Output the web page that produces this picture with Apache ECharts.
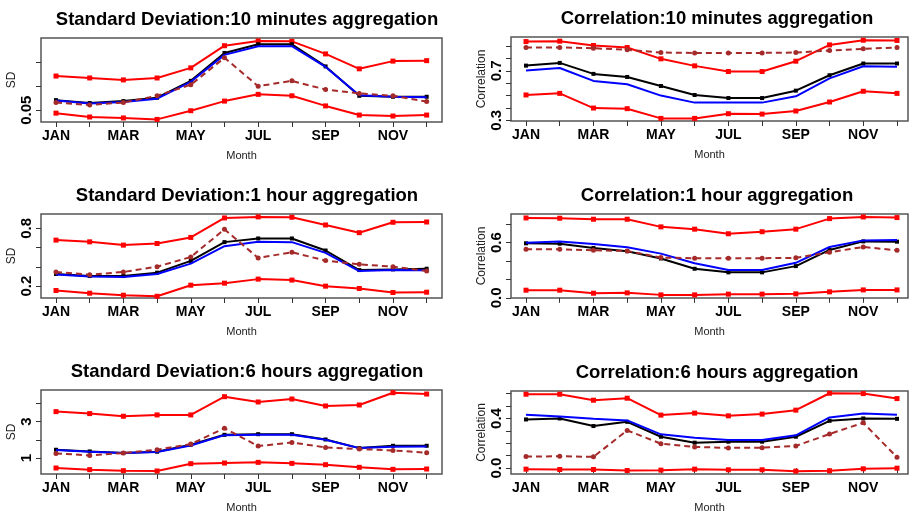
<!DOCTYPE html>
<html>
<head>
<meta charset="utf-8">
<title>SD and correlation by month</title>
<script src="https://cdn.jsdelivr.net/npm/echarts@6/dist/echarts.min.js"></script>
<style>
html, body { margin: 0; padding: 0; background: #fff; }
#chart { width: 913px; height: 514px; }
</style>
</head>
<body>
<div id="chart"></div>
<script>
var months = ['JAN', 'FEB', 'MAR', 'APR', 'MAY', 'JUN', 'JUL', 'AUG', 'SEP', 'OCT', 'NOV', 'DEC'];
var monthTicks = [1, 2, 3, 4, 5, 6, 7, 8, 9, 10, 11, 12];
var monthLabelTicks = [1, 3, 5, 7, 9, 11];

// Standard Deviation: 10 minutes
var sd10Upper = [0.121, 0.117, 0.113, 0.117, 0.138, 0.184, 0.194, 0.193, 0.167, 0.136, 0.152, 0.153];
var sd10Lower = [0.044, 0.036, 0.034, 0.031, 0.049, 0.069, 0.083, 0.080, 0.059, 0.040, 0.038, 0.040];
var sd10Black = [0.071, 0.065, 0.069, 0.076, 0.111, 0.169, 0.187, 0.187, 0.141, 0.080, 0.078, 0.078];
var sd10Blue = [0.070, 0.064, 0.067, 0.074, 0.109, 0.165, 0.183, 0.183, 0.140, 0.081, 0.078, 0.077];
var sd10Brown = [0.066, 0.061, 0.066, 0.080, 0.103, 0.159, 0.100, 0.111, 0.093, 0.085, 0.080, 0.068];
var sd10Ticks = [0.05, 0.10, 0.15];
var sd10Labels = ['0.05'];

// Correlation: 10 minutes
var cor10Upper = [0.938, 0.941, 0.906, 0.890, 0.798, 0.741, 0.695, 0.695, 0.779, 0.911, 0.949, 0.947];
var cor10Lower = [0.505, 0.518, 0.399, 0.394, 0.315, 0.315, 0.353, 0.350, 0.375, 0.448, 0.535, 0.518];
var cor10Black = [0.743, 0.765, 0.676, 0.651, 0.578, 0.505, 0.480, 0.480, 0.540, 0.665, 0.760, 0.760];
var cor10Blue = [0.703, 0.724, 0.619, 0.592, 0.500, 0.443, 0.443, 0.443, 0.494, 0.640, 0.738, 0.733];
var cor10Brown = [0.890, 0.890, 0.884, 0.871, 0.849, 0.846, 0.846, 0.846, 0.849, 0.865, 0.879, 0.890];
var cor10Ticks = [0.3, 0.4, 0.5, 0.6, 0.7, 0.8, 0.9];
var cor10Labels = ['0.3', '0.7'];

// Standard Deviation: 1 hour
var sd1hUpper = [0.678, 0.660, 0.626, 0.643, 0.706, 0.908, 0.919, 0.915, 0.835, 0.755, 0.863, 0.866];
var sd1hLower = [0.155, 0.127, 0.106, 0.095, 0.210, 0.231, 0.273, 0.263, 0.200, 0.176, 0.134, 0.137];
var sd1hBlack = [0.326, 0.305, 0.305, 0.340, 0.462, 0.657, 0.695, 0.695, 0.570, 0.367, 0.374, 0.381];
var sd1hBlue = [0.322, 0.301, 0.294, 0.326, 0.434, 0.615, 0.660, 0.657, 0.545, 0.357, 0.367, 0.364];
var sd1hBrown = [0.347, 0.319, 0.347, 0.402, 0.503, 0.790, 0.493, 0.552, 0.465, 0.427, 0.402, 0.357];
var sd1hTicks = [0.2, 0.4, 0.6, 0.8];
var sd1hLabels = ['0.2', '0.8'];

// Correlation: 1 hour
var cor1hUpper = [0.869, 0.866, 0.855, 0.855, 0.772, 0.747, 0.697, 0.719, 0.747, 0.862, 0.880, 0.873];
var cor1hLower = [0.083, 0.083, 0.050, 0.054, 0.032, 0.032, 0.040, 0.040, 0.043, 0.065, 0.086, 0.086];
var cor1hBlack = [0.593, 0.589, 0.543, 0.507, 0.428, 0.316, 0.277, 0.277, 0.345, 0.521, 0.614, 0.611];
var cor1hBlue = [0.600, 0.614, 0.586, 0.550, 0.481, 0.377, 0.302, 0.302, 0.381, 0.553, 0.625, 0.629];
var cor1hBrown = [0.528, 0.528, 0.517, 0.510, 0.438, 0.431, 0.431, 0.431, 0.435, 0.496, 0.553, 0.517];
var cor1hTicks = [0, 0.2, 0.4, 0.6, 0.8];
var cor1hLabels = ['0.0', '0.6'];

// Standard Deviation: 6 hours
var sd6hUpper = [3.545, 3.436, 3.291, 3.364, 3.364, 4.364, 4.073, 4.236, 3.855, 3.909, 4.582, 4.509];
var sd6hLower = [0.455, 0.364, 0.309, 0.291, 0.691, 0.727, 0.764, 0.709, 0.636, 0.491, 0.382, 0.400];
var sd6hBlack = [1.455, 1.364, 1.273, 1.345, 1.727, 2.273, 2.309, 2.309, 2.018, 1.545, 1.673, 1.673];
var sd6hBlue = [1.436, 1.345, 1.273, 1.327, 1.691, 2.255, 2.273, 2.273, 2.000, 1.545, 1.618, 1.636];
var sd6hBrown = [1.255, 1.145, 1.273, 1.455, 1.764, 2.636, 1.655, 1.855, 1.582, 1.491, 1.418, 1.291];
var sd6hTicks = [1, 2, 3, 4];
var sd6hLabels = ['1', '3'];

// Correlation: 6 hours
var cor6hUpper = [0.595, 0.595, 0.547, 0.563, 0.427, 0.443, 0.421, 0.435, 0.467, 0.603, 0.600, 0.560];
var cor6hLower = [-0.008, -0.011, -0.011, -0.019, -0.016, -0.008, -0.013, -0.013, -0.024, -0.021, -0.005, 0.000];
var cor6hBlack = [0.392, 0.400, 0.339, 0.373, 0.253, 0.205, 0.213, 0.213, 0.253, 0.381, 0.400, 0.397];
var cor6hBlue = [0.429, 0.416, 0.397, 0.384, 0.272, 0.245, 0.227, 0.227, 0.264, 0.408, 0.440, 0.429];
var cor6hBrown = [0.093, 0.096, 0.091, 0.304, 0.197, 0.171, 0.163, 0.165, 0.179, 0.275, 0.365, 0.088];
var cor6hTicks = [0, 0.1, 0.2, 0.3, 0.4, 0.5, 0.6];
var cor6hLabels = ['0.0', '0.4'];

var panels = [
  {title: 'Standard Deviation:10 minutes aggregation', yName: 'SD', lines: [sd10Upper, sd10Lower, sd10Black, sd10Blue, sd10Brown], ticks: sd10Ticks, labels: sd10Labels,
   min: 0.0256, max: 0.200, left: 41, top: 38, width: 401, height: 84, xMax: 12.455, titleX: 242},
  {title: 'Correlation:10 minutes aggregation', yName: 'Correlation', lines: [cor10Upper, cor10Lower, cor10Black, cor10Blue, cor10Brown], ticks: cor10Ticks, labels: cor10Labels,
   min: 0.294, max: 0.975, left: 511, top: 37, width: 397, height: 84, xMax: 12.326, titleX: 712},
  {title: 'Standard Deviation:1 hour aggregation', yName: 'SD', lines: [sd1hUpper, sd1hLower, sd1hBlack, sd1hBlue, sd1hBrown], ticks: sd1hTicks, labels: sd1hLabels,
   min: 0.077, max: 0.949, left: 41, top: 214, width: 401, height: 84, xMax: 12.455, titleX: 242},
  {title: 'Correlation:1 hour aggregation', yName: 'Correlation', lines: [cor1hUpper, cor1hLower, cor1hBlack, cor1hBlue, cor1hBrown], ticks: cor1hTicks, labels: cor1hLabels,
   min: -0.002, max: 0.912, left: 511, top: 214, width: 397, height: 84, xMax: 12.326, titleX: 712},
  {title: 'Standard Deviation:6 hours aggregation', yName: 'SD', lines: [sd6hUpper, sd6hLower, sd6hBlack, sd6hBlue, sd6hBrown], ticks: sd6hTicks, labels: sd6hLabels,
   min: 0.126, max: 4.73, left: 41, top: 390, width: 401, height: 84, xMax: 12.455, titleX: 242},
  {title: 'Correlation:6 hours aggregation', yName: 'Correlation', lines: [cor6hUpper, cor6hLower, cor6hBlack, cor6hBlue, cor6hBrown], ticks: cor6hTicks, labels: cor6hLabels,
   min: -0.047, max: 0.621, left: 511, top: 391, width: 397, height: 83, xMax: 12.326, titleX: 712}
];

// red upper, red lower, black, blue, brown dashed
var lineStyles = [
  {name: 'Upper', color: '#ff0000', symbol: 'rect', size: 5, dash: false},
  {name: 'Lower', color: '#ff0000', symbol: 'rect', size: 5, dash: false},
  {name: 'Black', color: '#000000', symbol: 'rect', size: 4, dash: false},
  {name: 'Blue', color: '#0000ff', symbol: 'none', size: 0, dash: false},
  {name: 'Brown', color: '#a52a2a', symbol: 'circle', size: 5, dash: true}
];

var sans = "'Liberation Sans', Arial, sans-serif";

var titles = [], grids = [], xAxes = [], yAxes = [], series = [];

panels.forEach(function (p, idx) {
  titles.push({
    text: p.title,
    left: p.titleX,
    top: p.top - 33,
    textAlign: 'center',
    textStyle: {fontFamily: sans, fontSize: 18.5, fontWeight: 'bold', color: '#000'}
  });
  grids.push({
    left: p.left, top: p.top, width: p.width, height: p.height,
    show: true, borderColor: '#555', borderWidth: 1.5, backgroundColor: 'transparent'
  });
  xAxes.push({
    gridIndex: idx, type: 'value', min: 0.555, max: p.xMax,
    name: 'Month', nameLocation: 'middle', nameGap: 28,
    nameTextStyle: {fontFamily: sans, fontSize: 11, color: '#222'},
    axisLine: {show: false},
    splitLine: {show: false},
    axisTick: {show: true, customValues: monthTicks, length: 5, lineStyle: {color: '#333'}},
    axisLabel: {
      customValues: monthLabelTicks, margin: 7,
      fontFamily: sans, fontSize: 14, fontWeight: 'bold', color: '#000',
      formatter: function (v) { return months[Math.round(v) - 1]; }
    }
  });
  yAxes.push({
    gridIndex: idx, type: 'value', min: p.min, max: p.max,
    name: p.yName, nameLocation: 'middle', nameGap: 23, nameRotate: 90,
    nameTextStyle: {fontFamily: sans, fontSize: 12, color: '#222'},
    axisLine: {show: false},
    splitLine: {show: false},
    axisTick: {show: true, customValues: p.ticks, length: 5, lineStyle: {color: '#333'}},
    axisLabel: {
      customValues: p.labels.map(Number), rotate: 90, margin: 7,
      fontFamily: sans, fontSize: 15, fontWeight: 'bold', color: '#000',
      formatter: function (v) {
        for (var i = 0; i < p.labels.length; i++) {
          if (Math.abs(Number(p.labels[i]) - v) < 1e-9) return p.labels[i];
        }
        return '';
      }
    }
  });
  p.lines.forEach(function (values, k) {
    var st = lineStyles[k];
    series.push({
      type: 'line', name: st.name,
      xAxisIndex: idx, yAxisIndex: idx,
      data: values.map(function (v, i) { return [monthTicks[i], v]; }),
      symbol: st.symbol, symbolSize: st.size, showSymbol: st.symbol !== 'none',
      lineStyle: {color: st.color, width: 2, type: st.dash ? [6, 4] : 'solid'},
      itemStyle: {color: st.color},
      silent: true, z: 2 + k
    });
  });
});

var chart = echarts.init(document.getElementById('chart'));
chart.setOption({
  animation: false,
  backgroundColor: '#fff',
  title: titles,
  grid: grids,
  xAxis: xAxes,
  yAxis: yAxes,
  series: series
});
</script>
</body>
</html>
